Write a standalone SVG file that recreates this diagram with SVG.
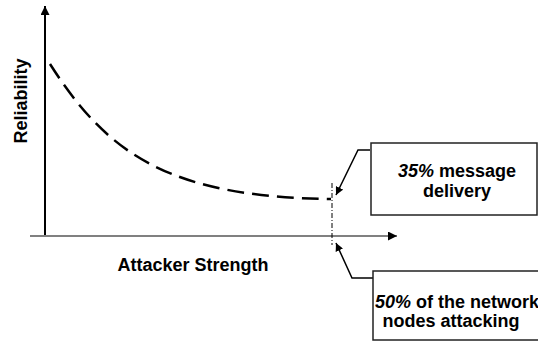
<svg xmlns="http://www.w3.org/2000/svg" width="538" height="343" viewBox="0 0 538 343">
<style>
text{font-family:"Liberation Sans",Arial,sans-serif;font-size:18px;font-weight:bold;fill:#000}
.box{fill:#fff;stroke:#222;stroke-width:1.5}
.call{fill:none;stroke:#000;stroke-width:1.5}
</style>
<defs>
<marker id="ah" viewBox="0 0 10 10" refX="10" refY="5" markerWidth="8" markerHeight="8" markerUnits="userSpaceOnUse" orient="auto"><path d="M0,0 L10,5 L0,10 z" fill="#000"/></marker>
<marker id="ax" viewBox="0 0 10 10" refX="10" refY="5" markerWidth="9" markerHeight="9" markerUnits="userSpaceOnUse" orient="auto"><path d="M0,0 L10,5 L0,10 z" fill="#000"/></marker>
</defs>
<g id="axes">
<line x1="45" y1="237" x2="45" y2="6" stroke="#000" stroke-width="2" marker-end="url(#ax)"/>
<line x1="30" y1="236" x2="397" y2="236" stroke="#808080" stroke-width="2" marker-end="url(#ax)"/>
<text id="ylabel" x="27" y="101" text-anchor="middle" transform="rotate(-90 27 101)">Reliability</text>
<text id="xlabel" x="193" y="271" text-anchor="middle">Attacker Strength</text>
</g>
<g id="curve">
<path d="M50,64 C108,155 170,197 331,199" fill="none" stroke="#000" stroke-width="2.5" stroke-dasharray="17 8"/>
</g>
<g id="marker-line">
<line x1="332" y1="183" x2="332" y2="245" stroke="#000" stroke-width="1" stroke-dasharray="5 2 1 2"/>
</g>
<g id="connectors">
<polyline class="call" points="370,150 358,150 336,195" marker-end="url(#ah)"/>
<polyline class="call" points="373,278 352,278 336,243" marker-end="url(#ah)"/>
</g>
<g id="node-delivery">
<rect class="box" x="371" y="143" width="166" height="72"/>
<text x="457" y="177" text-anchor="middle"><tspan font-style="italic">35%</tspan> message</text>
<text x="457" y="197" text-anchor="middle">delivery</text>
</g>
<g id="node-attacking">
<rect class="box" x="373" y="271" width="170" height="69"/>
<text x="457" y="308" text-anchor="middle" font-size="17.5"><tspan font-style="italic">50%</tspan> of the network</text>
<text x="451" y="327" text-anchor="middle">nodes attacking</text>
</g>
</svg>
